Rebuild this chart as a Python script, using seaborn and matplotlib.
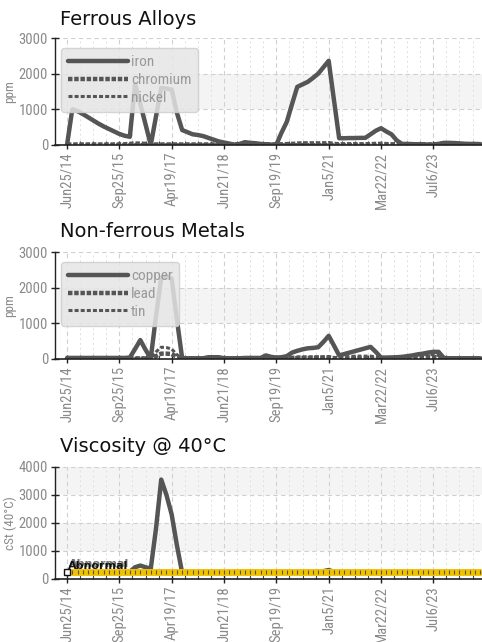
import numpy as np
import matplotlib
matplotlib.use("Agg")
import matplotlib.pyplot as plt
from matplotlib.ticker import MultipleLocator, FixedLocator
import seaborn as sns

sns.set_theme(style="white")
plt.rcParams['font.family'] = ['DejaVu Sans']

# sample labels (every 10th sample is labelled)
tick_labels = ["Jun25/14", "Sep25/15", "Apr19/17", "Jun21/18",
               "Sep19/19", "Jan5/21", "Mar22/22", "Jul6/23"]

iron = [0, 1000, 950, 870, 780, 690, 600, 520, 450, 380,
        310, 260, 230, 1700, 1150, 580, 0, 800, 1600, 1580,
        1550, 900, 420, 360, 300, 280, 250, 200, 150, 100,
        70, 40, 10, 30, 80, 60, 50, 30, 20, 10,
        10, 350, 650, 1150, 1630, 1700, 1770, 1880, 2000, 2180,
        2360, 1270, 190, 190, 195, 195, 200, 200, 300, 400,
        470, 380, 300, 130, 30, 30, 25, 20, 20, 10,
        0, 30, 60, 60, 55, 45, 35, 30, 30, 25]
chromium = [10, 15, 15, 15, 15, 15, 15, 15, 15, 15,
            15, 20, 30, 40, 40, 30, 15, 15, 15, 15,
            15, 15, 15, 15, 15, 15, 15, 15, 15, 15,
            15, 15, 15, 20, 30, 20, 15, 15, 15, 15,
            15, 20, 25, 30, 40, 45, 45, 45, 45, 45,
            50, 30, 20, 20, 20, 20, 20, 20, 25, 30,
            30, 25, 20, 15, 15, 15, 15, 15, 15, 15,
            15, 30, 40, 40, 30, 20, 15, 15, 15, 15]
nickel = [5, 8, 8, 8, 8, 8, 8, 8, 8, 8,
          8, 8, 10, 15, 15, 10, 8, 8, 8, 8,
          8, 8, 8, 8, 8, 8, 8, 8, 8, 8,
          8, 8, 8, 8, 10, 8, 8, 8, 8, 8,
          8, 8, 10, 10, 12, 12, 12, 12, 12, 12,
          15, 10, 8, 8, 8, 8, 8, 8, 8, 8,
          8, 8, 8, 8, 8, 8, 8, 8, 8, 8,
          8, 10, 12, 12, 10, 8, 8, 8, 8, 8]

copper = [30, 30, 30, 30, 30, 30, 30, 30, 30, 30,
          30, 30, 40, 280, 530, 260, 20, 1200, 2280, 2320,
          2250, 1100, 20, 20, 20, 20, 20, 50, 50, 50,
          20, 20, 20, 20, 30, 30, 30, 30, 100, 60,
          40, 50, 80, 180, 230, 270, 300, 310, 330, 480,
          650, 380, 100, 140, 180, 220, 260, 300, 340, 200,
          40, 40, 45, 50, 60, 80, 100, 130, 150, 180,
          200, 200, 30, 20, 20, 20, 20, 20, 20, 20]
lead = [15, 15, 15, 15, 15, 15, 15, 15, 15, 15,
        15, 15, 15, 15, 20, 15, 15, 80, 150, 150,
        140, 60, 15, 15, 15, 15, 15, 15, 15, 15,
        15, 15, 15, 15, 15, 15, 15, 15, 20, 15,
        15, 15, 15, 20, 25, 30, 30, 35, 40, 40,
        40, 25, 15, 15, 15, 15, 15, 15, 15, 15,
        15, 15, 15, 20, 30, 40, 50, 60, 60, 60,
        60, 40, 15, 15, 15, 15, 15, 15, 15, 15]
tin = [20, 20, 20, 20, 20, 20, 20, 20, 20, 20,
       20, 20, 20, 20, 25, 20, 20, 200, 330, 320,
       280, 120, 20, 20, 20, 20, 20, 20, 20, 20,
       20, 20, 20, 20, 20, 20, 20, 20, 30, 20,
       20, 20, 30, 50, 60, 60, 60, 60, 60, 60,
       70, 40, 40, 60, 70, 80, 80, 80, 80, 60,
       30, 30, 30, 40, 60, 80, 100, 110, 120, 120,
       120, 100, 20, 20, 20, 20, 20, 20, 20, 20]

viscosity = [230, 220, 220, 220, 220, 220, 220, 220, 220, 220,
             220, 220, 260, 420, 480, 420, 370, 1800, 3550, 3000,
             2300, 1200, 220, 220, 220, 220, 220, 220, 220, 220,
             220, 220, 220, 220, 220, 220, 220, 220, 220, 220,
             220, 220, 220, 220, 220, 220, 230, 240, 250, 280,
             320, 260, 220, 220, 220, 220, 220, 220, 220, 220,
             220, 220, 220, 220, 220, 220, 220, 220, 220, 220,
             220, 220, 220, 220, 220, 220, 220, 220, 220, 220]
visc_limit = [250] * 80

idx = np.arange(len(iron))
LINE = "#555555"
GREY_TXT = "#8a8a8a"
tick_font = ['Roboto Condensed', 'Liberation Sans Narrow', 'Liberation Sans', 'DejaVu Sans']

fig = plt.figure(figsize=(4.82, 6.42), dpi=100)
L, W = 55 / 482, 427 / 482


def panel(top, bottom):
    ax = fig.add_axes([L, 1 - bottom / 642, W, (bottom - top) / 642])
    return ax


def finish(ax, ymax, ylabel):
    ax.set_xlim(-2.3, 79.3)
    ax.set_ylim(0, ymax)
    for lo in range(1000, ymax, 2000):
        ax.axhspan(lo, lo + 1000, color="#f4f4f4", zorder=0, lw=0)
    ax.xaxis.set_major_locator(FixedLocator(np.arange(0, 80, 10)))
    ax.xaxis.set_minor_locator(MultipleLocator(2.5))
    ax.set_xticklabels(tick_labels, rotation=90, color=GREY_TXT,
                       fontsize=10.5, family=tick_font)
    yt = np.arange(0, ymax + 1, 1000)
    ax.set_yticks(yt)
    ax.set_yticklabels([f"{v}" for v in yt], color=GREY_TXT,
                       fontsize=10.5, family=tick_font)
    ax.set_ylim(0, ymax)
    ax.grid(True, which="major", color="#d0d0d0", ls=(0, (4, 3)), lw=0.8)
    ax.grid(True, which="minor", axis="x", color="#e0e0e0", ls=(0, (2, 3)), lw=0.7)
    ax.set_axisbelow(True)
    for s in ("top", "right"):
        ax.spines[s].set_visible(False)
    ax.spines["left"].set_color("#222222")
    ax.spines["bottom"].set_color("#222222")
    ax.spines["left"].set_linewidth(1)
    ax.spines["bottom"].set_linewidth(1.2)
    ax.tick_params(axis="both", which="major", direction="inout", length=6,
                   width=1, color="#222222", pad=2, bottom=True, left=True)
    ax.tick_params(axis="x", which="minor", direction="in", length=3,
                   width=0.8, color="#444444", bottom=True)
    ax.set_ylabel(ylabel, color=GREY_TXT, fontsize=9.5, family=tick_font)
    ax.yaxis.set_label_coords(-0.09, 0.5)


def legend(ax):
    leg = ax.legend(loc="upper left", bbox_to_anchor=(0.015, 0.905),
                    handlelength=3.9, handletextpad=0.2, labelspacing=0.25,
                    borderpad=0.45, borderaxespad=0, frameon=True, fancybox=True,
                    prop={"family": tick_font, "size": 11})
    fr = leg.get_frame()
    fr.set_facecolor("#e6e6e6")
    fr.set_alpha(0.85)
    fr.set_edgecolor("#cfcfcf")
    for t in leg.get_texts():
        t.set_color("#999999")
    return leg


# Ferrous Alloys
ax1 = panel(38, 145)
sns.lineplot(x=idx, y=iron, ax=ax1, color=LINE, lw=3.2, label="iron")
sns.lineplot(x=idx, y=chromium, ax=ax1, color=LINE, lw=3.2,
             linestyle=(0, (1.0, 0.4)), label="chromium")
sns.lineplot(x=idx, y=nickel, ax=ax1, color=LINE, lw=2.2,
             linestyle=(0, (1.3, 0.7)), label="nickel")
finish(ax1, 3000, "ppm")
legend(ax1)
fig.text(60 / 482, 1 - 25 / 642, "Ferrous Alloys", fontsize=14, color="#111111")

# Non-ferrous Metals
ax2 = panel(252, 359)
sns.lineplot(x=idx, y=copper, ax=ax2, color=LINE, lw=3.2, label="copper")
sns.lineplot(x=idx, y=lead, ax=ax2, color=LINE, lw=3.2,
             linestyle=(0, (1.0, 0.4)), label="lead")
sns.lineplot(x=idx, y=tin, ax=ax2, color=LINE, lw=2.2,
             linestyle=(0, (1.3, 0.7)), label="tin")
finish(ax2, 3000, "ppm")
legend(ax2)
fig.text(60 / 482, 1 - 237 / 642, "Non-ferrous Metals", fontsize=14, color="#111111")

# Viscosity
ax3 = panel(467, 579)
sns.lineplot(x=idx, y=viscosity, ax=ax3, color=LINE, lw=3.2)
sns.lineplot(x=idx[1:], y=visc_limit[1:], ax=ax3, color="#f2c200", lw=5,
             marker="|", markersize=3, markeredgecolor="#555555",
             markeredgewidth=0.8)
ax3.plot(idx[0], visc_limit[0], marker="s", ms=4.5, mfc="white",
         mec="#111111", mew=1, zorder=5, clip_on=False)
ax3.text(idx[0] + 0.2, visc_limit[0] + 120, "Abnormal", fontsize=8,
         fontweight="bold", color="#111111", zorder=6)
ax3.text(idx[0] + 0.4, visc_limit[0] + 170, "Abnormal", fontsize=8,
         fontweight="bold", color="#111111", zorder=6, alpha=0.6)
finish(ax3, 4000, "cSt (40°C)")
fig.text(60 / 482, 1 - 452 / 642, "Viscosity @ 40°C", fontsize=14, color="#111111")

fig.savefig("out.png", dpi=100)
